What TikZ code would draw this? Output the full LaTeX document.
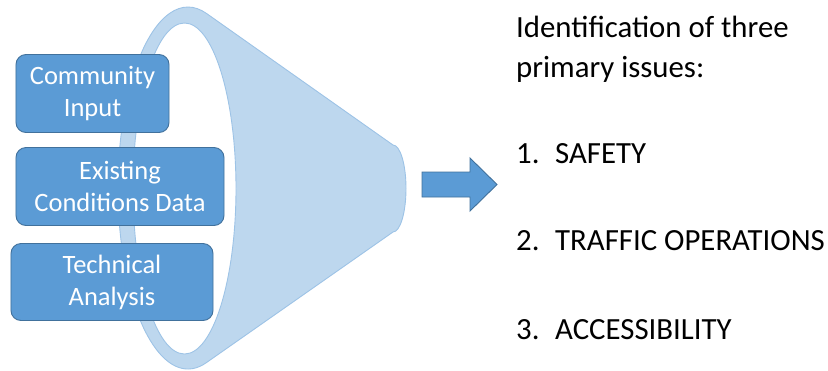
\documentclass[tikz,border=0pt]{standalone}
\usepackage{fontspec}
\setmainfont{Carlito}
\usetikzlibrary{calc}
\definecolor{funnelfill}{HTML}{BDD7EE}
\definecolor{funneledge}{HTML}{9DC3E6}
\definecolor{boxblue}{HTML}{5B9BD5}
\definecolor{boxedge}{HTML}{41719C}

\begin{document}
\begin{tikzpicture}[x=1bp, y=-1bp,
    inputbox/.style={draw=boxedge, fill=boxblue, rounded corners=10bp, line width=0.9bp,
        minimum height=78bp, inner sep=0pt, align=center, text=white,
        font=\fontsize{26.5bp}{32bp}\selectfont},
    funnel/.style={draw=funneledge, fill=funnelfill, line width=0.9bp},
    issuetext/.style={anchor=base west, inner sep=0pt, font=\fontsize{30.8bp}{36bp}\selectfont}]
    \useasboundingbox (0,0) rectangle (828,370);

    % Funnel: rim, cone and narrow end
    \coordinate (rim) at (188,188);
    \draw[funnel] ($(rim)+(74.8:70 and 181)$)
        arc[start angle=74.8, end angle=285.3, x radius=70, y radius=181]
        -- (393,145) arc[start angle=-90, end angle=90, x radius=13, y radius=43.5]
        -- cycle;
    % Opening of the funnel
    \draw[funnel, fill=white] (184.5,188.5) ellipse[x radius=51.5, y radius=165.5];

    % Inputs
    \node[inputbox, minimum width=153bp] (community) at (92.5,93.5) {Community\\Input};
    \node[inputbox, minimum width=208bp] (existing) at (120,186.5) {Existing\\Conditions Data};
    \node[inputbox, minimum width=202bp, minimum height=77bp] (technical) at (112,282) {Technical\\Analysis};

    % Block arrow
    \draw[fill=boxblue, draw=boxedge, line width=0.9bp]
        (422,172) -- (470,172) -- (470,158) -- (497,184.5)
        -- (470,211) -- (470,197) -- (422,197) -- cycle;

    % Result
    \node[issuetext] (intro) at (516,37) {Identification of three};
    \node[issuetext] (introb) at (516,77) {primary issues:};
    \foreach \num/\issue/\yb in {1/SAFETY/163, 2/TRAFFIC OPERATIONS/250, 3/ACCESSIBILITY/339} {
        \node[issuetext] (num\num) at (516,\yb) {\num.};
        \node[issuetext] (issue\num) at (555,\yb) {\issue};
    }
\end{tikzpicture}
\end{document}
